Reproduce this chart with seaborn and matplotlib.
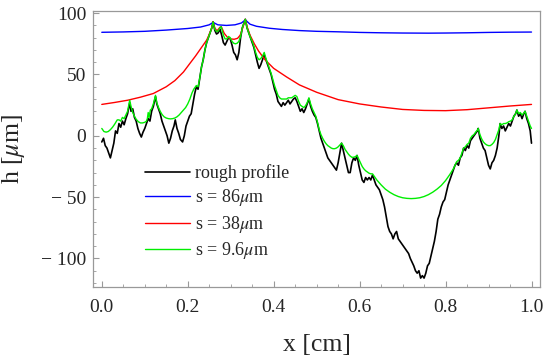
import matplotlib
matplotlib.use("Agg")
import matplotlib.pyplot as plt
import numpy as np
import pandas as pd
import seaborn as sns
from matplotlib.ticker import MultipleLocator, FuncFormatter

# rough profile
rough_x = [0.000, 0.004, 0.008, 0.012, 0.016, 0.020, 0.024, 0.028, 0.032, 0.036, 0.040, 0.044, 0.048, 0.052,
           0.056, 0.060, 0.065, 0.068, 0.072, 0.076, 0.080, 0.084, 0.088, 0.092, 0.096, 0.100, 0.104, 0.108,
           0.112, 0.116, 0.120, 0.125, 0.128, 0.132, 0.136, 0.140, 0.144, 0.148, 0.152, 0.156, 0.160, 0.164,
           0.168, 0.171, 0.175, 0.179, 0.183, 0.188, 0.192, 0.196, 0.200, 0.204, 0.208, 0.212, 0.216, 0.220,
           0.224, 0.228, 0.232, 0.236, 0.240, 0.244, 0.248, 0.252, 0.256, 0.259, 0.263, 0.267, 0.271, 0.275,
           0.279, 0.283, 0.287, 0.291, 0.295, 0.299, 0.303, 0.307, 0.311, 0.315, 0.319, 0.323, 0.327, 0.331,
           0.334, 0.338, 0.342, 0.346, 0.350, 0.354, 0.358, 0.362, 0.366, 0.370, 0.374, 0.378, 0.382, 0.386,
           0.390, 0.394, 0.398, 0.402, 0.406, 0.410, 0.414, 0.418, 0.422, 0.426, 0.430, 0.434, 0.438, 0.442,
           0.446, 0.450, 0.454, 0.458, 0.462, 0.466, 0.470, 0.474, 0.478, 0.482, 0.486, 0.490, 0.494, 0.498,
           0.502, 0.506, 0.510, 0.514, 0.518, 0.522, 0.526, 0.530, 0.534, 0.538, 0.542, 0.546, 0.550, 0.554,
           0.558, 0.562, 0.566, 0.570, 0.574, 0.578, 0.582, 0.586, 0.590, 0.594, 0.598, 0.602, 0.606, 0.610,
           0.614, 0.618, 0.622, 0.626, 0.630, 0.634, 0.638, 0.642, 0.646, 0.650, 0.654, 0.658, 0.662, 0.666,
           0.670, 0.674, 0.678, 0.682, 0.686, 0.690, 0.694, 0.698, 0.702, 0.706, 0.710, 0.714, 0.718, 0.722,
           0.726, 0.730, 0.734, 0.738, 0.742, 0.746, 0.750, 0.754, 0.758, 0.762, 0.766, 0.770, 0.774, 0.778,
           0.782, 0.786, 0.790, 0.794, 0.798, 0.802, 0.806, 0.810, 0.814, 0.818, 0.822, 0.826, 0.830, 0.834,
           0.838, 0.842, 0.846, 0.850, 0.854, 0.858, 0.862, 0.866, 0.870, 0.874, 0.876, 0.880, 0.884, 0.888,
           0.892, 0.896, 0.900, 0.904, 0.908, 0.912, 0.916, 0.920, 0.924, 0.927, 0.931, 0.935, 0.939, 0.943,
           0.947, 0.951, 0.955, 0.959, 0.963, 0.966, 0.970, 0.974, 0.978, 0.982, 0.985, 0.989, 0.993, 0.997,
           1.000]
rough_h = [-5, -2, -8, -10, -14, -18, -12, -6, 4, 2, 10, 7, 12, 9,
           14, 18, 27, 20, 22, 15, 12, 6, 2, -1, 3, 6, 10, 14,
           12, 20, 24, 32, 26, 22, 18, 12, 8, 4, 0, -6, -2, 4,
           8, 13, 6, 2, -3, -5, 0, 8, 12, 16, 18, 26, 34, 40,
           38, 47, 56, 62, 70, 76, 80, 84, 88, 93, 86, 83, 84, 87,
           82, 76, 74, 77, 80, 79, 74, 68, 66, 62, 68, 80, 88, 92,
           95, 88, 84, 80, 76, 72, 66, 60, 55, 58, 62, 66, 62, 58,
           54, 50, 44, 38, 34, 28, 26, 24, 27, 25, 27, 29, 26, 28,
           30, 31, 28, 24, 20, 22, 19, 22, 26, 30, 24, 20, 17, 15,
           10, 4, -2, -6, -10, -14, -18, -20, -22, -24, -26, -28, -22, -14,
           -6, -12, -18, -24, -30, -30, -22, -18, -20, -16, -24, -30, -36, -38,
           -34, -36, -34, -36, -32, -36, -40, -42, -44, -48, -52, -58, -66, -74,
           -78, -80, -84, -80, -78, -84, -86, -88, -90, -92, -94, -96, -100, -103,
           -106, -110, -112, -110, -116, -114, -116, -112, -106, -104, -98, -92, -86, -78,
           -68, -64, -58, -54, -52, -46, -40, -36, -32, -28, -24, -22, -24, -18,
           -16, -10, -12, -8, -10, -4, -2, 0, 2, 4, 6, -2, -6, -10,
           -12, -18, -24, -27, -22, -20, -16, -10, 0, 10, 6, 8, 4, 7,
           10, 8, 12, 16, 18, 21, 16, 18, 14, 18, 20, 14, 10, 4,
           -6]

# s = 86 um
blue_x = [0.00, 0.05, 0.10, 0.15, 0.20, 0.23, 0.25, 0.259, 0.27, 0.29, 0.31, 0.325, 0.334, 0.345,
          0.36, 0.39, 0.42, 0.46, 0.50, 0.55, 0.60, 0.65, 0.70, 0.76, 0.80, 0.85, 0.90, 0.95, 1.00]
blue_h = [84.4, 84.7, 85.2, 86.2, 87.5, 88.7, 90.5, 92.5, 90.5, 90.0, 90.5, 92.0, 94.5, 91.0,
          89.3, 87.7, 86.7, 85.8, 85.2, 84.8, 84.3, 84.0, 83.8, 83.7, 83.8, 84.0, 84.3, 84.5, 84.6]

# s = 38 um
red_x = [0.00, 0.03, 0.06, 0.09, 0.12, 0.15, 0.17, 0.19, 0.205, 0.218, 0.228, 0.238, 0.244, 0.248,
         0.252, 0.256, 0.259, 0.263, 0.268, 0.275, 0.278, 0.285, 0.292, 0.300, 0.308, 0.316, 0.322,
         0.327, 0.331, 0.334, 0.338, 0.345, 0.355, 0.365, 0.38, 0.40, 0.43, 0.46, 0.50, 0.55, 0.60,
         0.65, 0.70, 0.75, 0.80, 0.85, 0.90, 0.95, 1.00]
red_h = [25.6, 27.2, 29.0, 31.5, 34.5, 40.0, 45.0, 52.0, 59.0, 65.0, 70.0, 75.0, 78.0, 81.0,
         84.5, 88.0, 93.0, 88.0, 85.5, 88.5, 89.0, 83.5, 80.5, 79.0, 78.7, 79.5, 82.0,
         87.0, 91.5, 95.0, 89.0, 82.0, 75.0, 69.0, 62.0, 55.0, 48.0, 41.5, 35.5, 29.5, 26.0,
         23.5, 21.5, 20.7, 20.5, 21.3, 22.8, 24.3, 25.6]

# s = 9.6 um
green_x = [0.000, 0.005, 0.010, 0.015, 0.020, 0.025, 0.030, 0.036, 0.040, 0.044, 0.048, 0.052, 0.056,
           0.060, 0.065, 0.068, 0.072, 0.076, 0.080, 0.085, 0.090, 0.095, 0.100, 0.104, 0.106, 0.108,
           0.110, 0.113, 0.116, 0.120, 0.125, 0.128, 0.132, 0.136, 0.140, 0.145, 0.150, 0.155, 0.160,
           0.165, 0.170, 0.175, 0.180, 0.185, 0.190, 0.195, 0.200, 0.205, 0.210, 0.214, 0.220, 0.224,
           0.228, 0.232, 0.236, 0.240, 0.244, 0.248, 0.252, 0.256, 0.259, 0.263, 0.267, 0.271, 0.275,
           0.278, 0.283, 0.287, 0.291, 0.295, 0.299, 0.303, 0.307, 0.311, 0.315, 0.319, 0.323, 0.327,
           0.331, 0.334, 0.338, 0.342, 0.346, 0.350, 0.354, 0.358, 0.362, 0.366, 0.370, 0.374, 0.378,
           0.382, 0.386, 0.390, 0.394, 0.398, 0.402, 0.406, 0.410, 0.414, 0.418, 0.422, 0.426, 0.430,
           0.434, 0.438, 0.442, 0.446, 0.450, 0.454, 0.458, 0.462, 0.466, 0.470, 0.474, 0.478, 0.482,
           0.486, 0.490, 0.494, 0.498, 0.502, 0.506, 0.510, 0.514, 0.518, 0.522, 0.526, 0.530, 0.534,
           0.538, 0.542, 0.546, 0.550, 0.554, 0.558, 0.562, 0.566, 0.570, 0.574, 0.578, 0.582, 0.586,
           0.590, 0.594, 0.598, 0.602, 0.606, 0.610, 0.614, 0.618, 0.622, 0.626, 0.630, 0.634, 0.640,
           0.650, 0.660, 0.670, 0.680, 0.690, 0.700, 0.710, 0.720, 0.730, 0.740, 0.750, 0.760, 0.770,
           0.780, 0.790, 0.800, 0.810, 0.818, 0.822, 0.826, 0.830, 0.834, 0.838, 0.842, 0.846, 0.850,
           0.854, 0.858, 0.862, 0.866, 0.870, 0.874, 0.876, 0.880, 0.884, 0.888, 0.892, 0.896, 0.900,
           0.904, 0.908, 0.912, 0.916, 0.920, 0.924, 0.927, 0.931, 0.935, 0.939, 0.943, 0.947, 0.951,
           0.955, 0.959, 0.963, 0.966, 0.970, 0.974, 0.978, 0.982, 0.985, 0.989, 0.993, 0.997, 1.000]
green_h = [6, 3.5, 3, 3.5, 5, 7, 9.5, 13, 13, 12, 15, 14, 17,
           20, 29, 24, 19, 16, 13.5, 11.5, 10.5, 10.5, 11, 12, 14, 19,
           15, 21, 22, 26, 33, 27, 23, 20, 17.5, 15.5, 14.5, 14, 13.8,
           14, 14.5, 15.5, 17, 19, 21, 23, 26, 30, 35, 38, 41, 40,
           47, 56, 62, 70, 76, 80, 84, 88, 93, 87, 85, 85.5, 88,
           89, 82, 79, 79, 81, 80, 77, 75.5, 75, 75.5, 77, 81, 88,
           92, 95, 88, 84, 80, 77, 73, 68, 64, 62, 63, 65, 68,
           63, 59, 55, 51, 46, 41, 37, 33, 31, 30, 30, 30, 30,
           31, 31, 31, 32, 33, 32, 28, 25, 24, 23, 24.5, 27, 31,
           26, 22, 19, 16, 11, 5, 1, -2, -4.5, -6.5, -8, -9, -10,
           -10.5, -10.5, -10, -9, -7.5, -6, -8, -11, -13, -15, -16.5, -17.5, -17.5,
           -17, -16, -19, -22, -25, -27, -28.5, -29.5, -30.5, -31, -31, -33, -36,
           -40, -43.5, -46, -48, -49.5, -50.5, -51, -51.2, -51, -50.5, -49.5, -48, -46,
           -43.5, -40.5, -36.5, -31.5, -27, -24, -21, -20, -18, -14, -10, -9, -7,
           -6, -2, 0, 1, 3, 4.5, 6, 1, -2.5, -5, -6.5, -7.5, -8,
           -8, -7, -5.5, -3, 1, 5, 10, 9, 10, 10, 10.5, 11.5, 12,
           13, 16, 18, 21, 18, 19, 17, 18.5, 20, 16, 12, 8, 6]

labels = ["rough profile", r"s = 86$\mu$m", r"s = 38$\mu$m", r"s = 9.6$\mu$m"]
colors = ["black", "#0000ff", "#ff0000", "#00ee00"]
widths = [1.2, 1.0, 1.0, 1.0]

sns.set_theme(style="ticks")
plt.rcParams["font.family"] = ["Liberation Serif", "DejaVu Serif"]
plt.rcParams["mathtext.fontset"] = "stix"

fig = plt.figure(figsize=(5.45, 3.57), dpi=100)
ax = fig.add_axes([0.171, 0.197, 0.820, 0.773])

series = [(rough_x, rough_h), (blue_x, blue_h), (red_x, red_h), (green_x, green_h)]
for (xs, hs), lab, c, w in zip(series, labels, colors, widths):
    df = pd.DataFrame({"x": xs, "h": hs})
    sns.lineplot(data=df, x="x", y="h", sort=False, estimator=None, color=c, lw=w, label=lab, ax=ax)

ax.set_xlim(-0.02, 1.02)
ax.set_ylim(-123, 102)
ax.xaxis.set_major_locator(MultipleLocator(0.2))
ax.xaxis.set_minor_locator(MultipleLocator(0.05))
ax.yaxis.set_major_locator(MultipleLocator(50))
ax.yaxis.set_minor_locator(MultipleLocator(10))
ax.xaxis.set_major_formatter(FuncFormatter(lambda v, p: f"{v:.1f}"))
ax.yaxis.set_major_formatter(FuncFormatter(lambda v, p: f"\u2212 {abs(v):.0f}" if v < 0 else f"{v:.0f}"))

for sp in ax.spines.values():
    sp.set_color("#999999")
    sp.set_linewidth(0.9)
ax.tick_params(which="both", direction="in", color="#999999", labelsize=14, top=False, right=False)
ax.tick_params(which="major", length=4.5, width=0.8, pad=5)
ax.tick_params(which="minor", length=2.5, width=0.6)
ax.tick_params(axis="x", which="major", pad=9)

ax.set_xlabel("x [cm]", fontsize=18.5, labelpad=13)
ax.set_ylabel(r"h [$\mu$m]", fontsize=18.5, labelpad=10)

leg = ax.legend(loc="upper left", bbox_to_anchor=(0.099, 0.47), frameon=False, fontsize=13,
                handlelength=2.5, handletextpad=0.3, labelspacing=0.3, borderaxespad=0)

fig.savefig("out.png", dpi=100)
